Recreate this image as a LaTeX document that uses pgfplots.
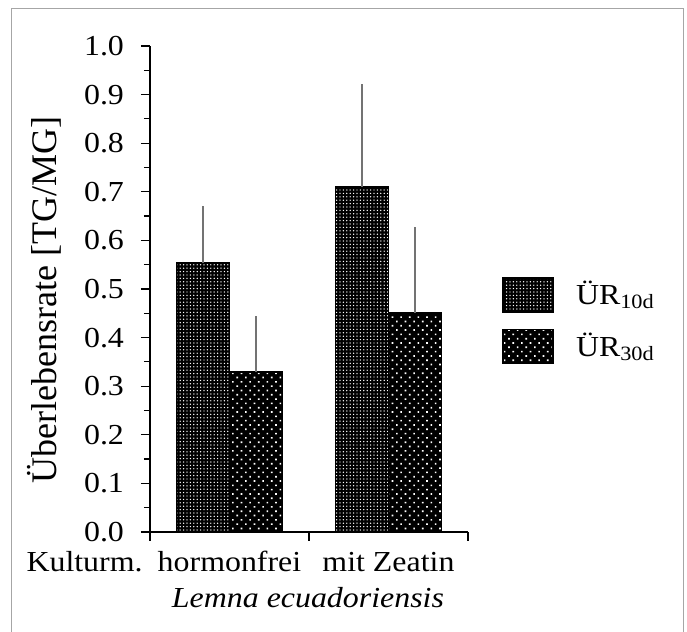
\documentclass[border=0pt]{standalone}
\usepackage{fontspec}
\setmainfont{Liberation Serif}[FakeStretch=1.1]
\newfontfamily\ylabfont{Liberation Serif}
\usepackage{pgfplots}
\pgfplotsset{compat=1.18}
\usetikzlibrary{patterns.meta,calc}

\tikzset{
  pA/.style={fill=black, postaction={pattern={Dots[radius=0.36pt, distance=1.7pt]}, pattern color=white}},
  pB/.style={fill=black, postaction={pattern={Dots[radius=0.58pt, distance=3.05pt, angle=45]}, pattern color=white}},
}
\pgfplotsset{
  myerr/.style={
    error bars/y dir=plus, error bars/y explicit, error bars/error mark=none,
    error bars/error bar style={line width=0.7pt, color=black!55},
  },
  mylegend/.style={
    legend image code/.code={\draw[##1, draw=black, line width=0.8pt] (0pt,-8.5pt) rectangle (25pt,8.5pt);}
  },
}

\begin{document}
\fontsize{14.5}{17}\selectfont
\begin{tikzpicture}
\begin{axis}[
  name=ax,
  at={(0,0)}, anchor=south west,
  scale only axis, width=159pt, height=243pt,
  xmin=0.5, xmax=2.5, ymin=0, ymax=1,
  axis x line*=bottom, axis y line*=left,
  axis line style={-, line width=0.6pt},
  tick align=outside,
  major tick length=4.5pt, minor tick length=3pt,
  tick style={line width=0.6pt, black},
  ytick={0,0.1,...,1.0},
  minor y tick num=1,
  yticklabel style={/pgf/number format/fixed, /pgf/number format/precision=1, /pgf/number format/fixed zerofill, xshift=-3.5pt},
  /pgf/number format/assume math mode=true,
  xtick={0.5,1.5,2.5}, xticklabels={},
  extra x ticks={1,2},
  extra x tick labels={hormonfrei, mit Zeatin},
  extra x tick style={tick style={draw=none}, xticklabel style={anchor=base, yshift=-15.5pt}},
  ylabel={Überlebensrate [TG/MG]},
  ylabel style={at={(axis description cs:-0.2925,0.477)}, anchor=base, font=\fontsize{18}{20}\selectfont\ylabfont},
  ybar=0pt, bar width=26.5pt,
  enlarge x limits=false,
  legend style={at={(axis description cs:1.107,0.525)}, anchor=north west, draw=none, fill=none,
    inner sep=0pt, row sep=8pt, column sep=11pt, nodes={inner sep=0pt}},
  legend cell align=left,
]
\addplot[draw=black, line width=0.8pt, pA, myerr, mylegend]
  coordinates {(1,0.553) +- (0,0.118) (2,0.710) +- (0,0.211)};
\addplot[draw=black, line width=0.8pt, pB, myerr, mylegend]
  coordinates {(1,0.329) +- (0,0.115) (2,0.451) +- (0,0.177)};
\legend{ÜR\textsubscript{10d}, ÜR\textsubscript{30d}}
\end{axis}
\node[anchor=base east, inner sep=0pt, xshift=-3.5pt, yshift=-20pt] at (ax.south west) {Kulturm.};
\node[anchor=base, inner sep=0pt, xshift=79pt, yshift=-38pt] at (ax.south west) {\itshape Lemna ecuadoriensis};
\draw[gray!70, line width=0.5pt] ($(ax.south west)+(-69pt,-52pt)$) -- ($(ax.south west)+(-69pt,261.5pt)$) -- ($(ax.south west)+(266.5pt,261.5pt)$) -- ($(ax.south west)+(266.5pt,-52pt)$);
\pgfresetboundingbox
\path ($(ax.south west)+(-75pt,-50pt)$) rectangle ($(ax.south west)+(268.5pt,266pt)$);
\end{tikzpicture}
\end{document}
